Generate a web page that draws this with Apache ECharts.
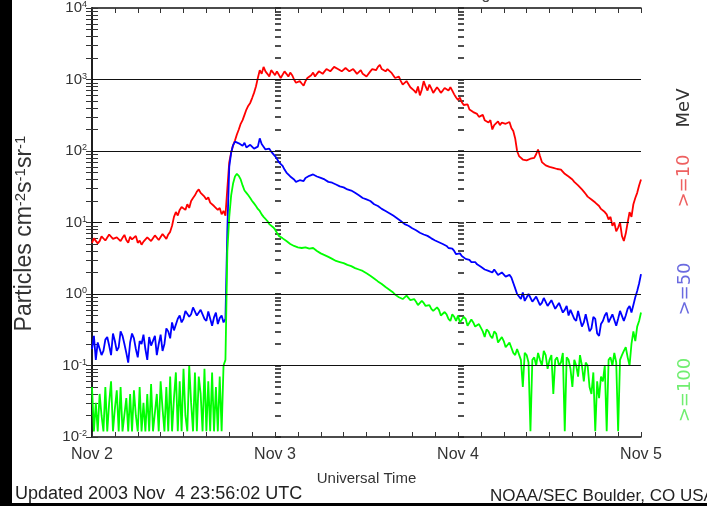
<!DOCTYPE html>
<html>
<head>
<meta charset="utf-8">
<script src="https://cdn.jsdelivr.net/npm/echarts@6/dist/echarts.min.js"></script>
<style>
html, body { margin: 0; padding: 0; background: #fff; }
#main { width: 707px; height: 506px; }
</style>
</head>
<body>
<div id="main"></div>
<script>
// x ticks (hours since Nov 2 00:00 UTC, one label per day)
var dayLabels = ['Nov 2', 'Nov 3', 'Nov 4', 'Nov 5'];
var stepHours = 0.25;
var decades = [0.01, 0.1, 1, 10, 100, 1000, 10000];
var solidLevels = [0.1, 1, 100, 1000];
var dashedLevels = [10];

// >=10 MeV, 15 min samples
var red = [
  5.2, 6.0, 5.8, 5.1, 5.5, 6.4, 6.2, 5.6, 5.9, 6.8,
  6.4, 5.9, 5.8, 6.2, 6.6, 5.5, 6.1, 6.7, 5.7, 5.2,
  6.3, 5.8, 5.9, 6.5, 5.2, 5.6, 4.9, 5.4, 5.6, 6.2,
  6.0, 5.5, 5.8, 6.6, 6.3, 5.7, 6.0, 6.9, 6.5, 5.9,
  6.8, 7.4, 9, 12, 14, 12.5, 15, 16.5, 17, 15,
  18, 16, 20, 22, 24, 27, 29, 26, 25, 23,
  21, 22.5, 19, 20, 17, 18, 15, 16, 13, 14.5,
  12.5, 30, 70, 95, 120, 140, 170, 200, 240, 270,
  320, 380, 430, 470, 550, 650, 800, 1050, 1350, 1200,
  1500, 1300, 1200, 1100, 1350, 1250, 1150, 1300, 1250, 1050,
  1100, 1300, 1200, 1100, 1250, 1150, 1000, 900, 850, 950,
  880, 820, 950, 1050, 1000, 1150, 1250, 1100, 1200, 1300,
  1350, 1200, 1300, 1400, 1450, 1300, 1350, 1500, 1550, 1400,
  1400, 1300, 1350, 1450, 1450, 1300, 1350, 1400, 1300, 1200,
  1250, 1350, 1200, 1250, 1100, 1150, 1300, 1400, 1450, 1350,
  1500, 1600, 1400, 1450, 1300, 1400, 1350, 1250, 1150, 1050,
  1000, 1100, 950, 850, 850, 950, 900, 780, 800, 700,
  650, 800, 600, 720, 950, 800, 700, 850, 750, 650,
  680, 780, 720, 650, 700, 760, 750, 700, 780, 700,
  620, 560, 520, 560, 480, 440, 420, 450, 380, 400,
  350, 360, 330, 300, 300, 320, 270, 280, 250, 270,
  200, 230, 240, 260, 230, 250, 260, 240, 240, 255,
  210, 190, 150, 100, 85, 80, 76, 79, 74, 77,
  78, 76, 80, 90, 105, 85, 70, 66, 63, 64,
  60, 62, 58, 60, 56, 57, 55, 52, 48, 47,
  44, 42, 40, 37, 35, 33, 31, 29, 27, 25,
  23, 22.5, 21, 20, 19, 18, 17, 15.5, 15, 14,
  13, 11, 12, 9, 10, 7.5, 8.5, 10, 6.5, 5.5,
  7, 10, 14, 12, 18, 22, 26, 33, 40
];
// >=50 MeV
var blue = [
  0.17, 0.26, 0.12, 0.21, 0.2, 0.14, 0.16, 0.23, 0.25, 0.19,
  0.14, 0.28, 0.22, 0.16, 0.18, 0.3, 0.26, 0.2, 0.15, 0.11,
  0.21, 0.28, 0.24, 0.17, 0.13, 0.22, 0.2, 0.27, 0.17, 0.12,
  0.25, 0.19, 0.18, 0.26, 0.14, 0.2, 0.27, 0.16, 0.2, 0.33,
  0.3, 0.24, 0.4, 0.31, 0.33, 0.45, 0.5, 0.4, 0.45, 0.58,
  0.6, 0.48, 0.52, 0.65, 0.62, 0.5, 0.48, 0.6, 0.58, 0.45,
  0.42, 0.57, 0.55, 0.36, 0.47, 0.55, 0.38, 0.46, 0.5, 0.4,
  0.45, 8, 60, 95, 120, 135, 140, 128, 125, 118,
  130, 112, 110, 122, 120, 108, 105, 115, 150, 125,
  115, 105, 100, 108, 98, 92, 85, 78, 70, 66,
  62, 55, 50, 47, 44, 42, 40, 37, 38, 39,
  40, 38, 42, 44, 45, 43, 47, 45, 44, 43,
  42, 41, 40, 38, 37, 37.5, 36, 35, 34, 33,
  32, 32.5, 31, 30, 29, 28.5, 28, 27, 26, 25,
  24, 23, 22, 21.5, 21, 20.5, 20, 19, 18, 17.5,
  17, 16, 15.5, 15, 14.5, 14, 13.5, 13, 12.5, 12,
  11.5, 11, 10.5, 10, 9.5, 9.3, 9, 8.6, 8.3, 8.0,
  7.8, 7.5, 7.2, 7.0, 6.8, 6.7, 6.5, 6.1, 6, 5.8,
  5.6, 5.5, 5.3, 5.1, 5, 4.9, 4.7, 4.4, 4.2, 4.3,
  4.0, 3.6, 3.5, 3.7, 3.4, 3.2, 3.1, 3.2, 3.0, 2.8,
  2.7, 2.8, 2.6, 2.5, 2.4, 2.3, 2.2, 2.25, 2.1, 2.0,
  2.0, 2.2, 2.1, 1.85, 1.9, 2.0, 1.95, 1.75, 1.8, 1.85,
  1.7, 1.6, 1.2, 1.0, 0.95, 0.85, 1.05, 0.8, 0.85, 1.0,
  0.95, 0.78, 0.8, 0.92, 0.9, 0.7, 0.75, 0.88, 0.85, 0.68,
  0.7, 0.82, 0.8, 0.62, 0.65, 0.75, 0.72, 0.55, 0.6, 0.68,
  0.5, 0.6, 0.62, 0.45, 0.42, 0.58, 0.55, 0.35, 0.4, 0.52,
  0.5, 0.3, 0.33, 0.48, 0.45, 0.28, 0.26, 0.38, 0.42, 0.5,
  0.55, 0.4, 0.38, 0.52, 0.5, 0.36, 0.45, 0.58, 0.55, 0.42,
  0.5, 0.62, 0.68, 0.55, 0.7, 0.9, 1.1, 1.4, 1.9
];
// >=100 MeV
var green = [
  0.05, 0.012, 0.03, 0.012, 0.04, 0.02, 0.012, 0.05, 0.012, 0.03,
  0.06, 0.012, 0.025, 0.045, 0.012, 0.05, 0.012, 0.012, 0.035, 0.012,
  0.04, 0.012, 0.045, 0.02, 0.012, 0.05, 0.012, 0.03, 0.012, 0.04,
  0.012, 0.055, 0.012, 0.012, 0.04, 0.012, 0.06, 0.025, 0.012, 0.05,
  0.012, 0.07, 0.012, 0.035, 0.08, 0.012, 0.06, 0.012, 0.09, 0.02,
  0.012, 0.1, 0.03, 0.012, 0.08, 0.012, 0.07, 0.04, 0.012, 0.09,
  0.012, 0.06, 0.012, 0.08, 0.012, 0.05, 0.012, 0.07, 0.012, 0.1,
  0.12, 4, 12, 24, 35, 44, 48, 45, 40, 33,
  28, 26, 24, 22, 20, 18.5, 17, 15.5, 14.5, 13,
  12, 11.5, 10.5, 9.5, 9, 8.6, 8, 7.2, 6.5, 6.3,
  6, 5.7, 5.5, 5.2, 5, 4.8, 4.7, 4.6, 4.5, 4.4,
  4.4, 4.6, 4.5, 4.3, 4.3, 4.5, 4.4, 4.2, 4.0, 3.8,
  3.7, 3.6, 3.5, 3.4, 3.3, 3.2, 3.1, 3.0, 2.9, 2.85,
  2.8, 2.75, 2.7, 2.6, 2.55, 2.5, 2.45, 2.35, 2.3, 2.25,
  2.2, 2.15, 2.1, 2.0, 1.95, 1.85, 1.8, 1.7, 1.65, 1.55,
  1.5, 1.45, 1.38, 1.3, 1.25, 1.2, 1.15, 1.1, 1.05, 0.98,
  1.0, 0.9, 0.95, 0.85, 0.88, 0.95, 0.9, 0.82, 0.8, 0.85,
  0.78, 0.7, 0.72, 0.8, 0.75, 0.68, 0.65, 0.7, 0.62, 0.58,
  0.55, 0.65, 0.6, 0.5, 0.5, 0.56, 0.52, 0.45, 0.42, 0.52,
  0.48, 0.42, 0.5, 0.4, 0.42, 0.48, 0.45, 0.36, 0.38, 0.44,
  0.4, 0.35, 0.33, 0.38, 0.36, 0.3, 0.25, 0.32, 0.3, 0.26,
  0.24, 0.3, 0.28, 0.21, 0.2, 0.25, 0.22, 0.18, 0.17, 0.21,
  0.2, 0.15, 0.14, 0.17, 0.16, 0.12, 0.05, 0.15, 0.14, 0.11,
  0.012, 0.12, 0.13, 0.1, 0.15, 0.12, 0.1, 0.16, 0.14, 0.09,
  0.12, 0.14, 0.04, 0.12, 0.13, 0.1, 0.11, 0.15, 0.012, 0.13,
  0.12, 0.09, 0.05, 0.12, 0.1, 0.07, 0.14, 0.1, 0.06, 0.11,
  0.1, 0.05, 0.04, 0.08, 0.012, 0.06, 0.035, 0.07, 0.06, 0.1,
  0.012, 0.12, 0.13, 0.1, 0.15, 0.11, 0.012, 0.12, 0.14, 0.16,
  0.18, 0.13, 0.1, 0.2, 0.3, 0.22, 0.35, 0.42, 0.55
];

function toPairs(vals) {
  return vals.map(function (v, i) { return [i * stepHours, v]; });
}

// minor tick positions 1..9 x 10^n
var logTicks = [];
for (var k = 0; k < decades.length - 1; k++) {
  for (var m = 1; m < 10; m++) logTicks.push(decades[k] * m);
}
logTicks.push(decades[decades.length - 1]);

var frame = { color: '#111', width: 1.5 };
var tickStyle = { color: '#333', width: 1 };

function xAx(pos, showLabel) {
  return {
    type: 'value', position: pos, min: 0, max: 72, interval: 24,
    axisLine: { show: true, onZero: false, lineStyle: frame },
    axisTick: { show: true, inside: true, length: 5, lineStyle: tickStyle },
    minorTick: { show: true, splitNumber: 8, length: 5, lineStyle: tickStyle },
    splitLine: { show: false },
    axisLabel: {
      show: showLabel, margin: 10, fontSize: 16, color: '#333',
      fontFamily: 'Liberation Sans', showMinLabel: true, showMaxLabel: true,
      formatter: function (v) { return dayLabels[Math.round(v / 24)]; }
    }
  };
}

function yAx(pos, offset, showLine, ticks) {
  return {
    type: 'log', logBase: 10, min: 0.01, max: 10000, position: pos, offset: offset,
    axisLine: { show: showLine, lineStyle: frame },
    axisTick: { show: true, inside: true, length: 6, customValues: logTicks, lineStyle: ticks || tickStyle },
    splitLine: { show: false },
    axisLabel: { show: false }
  };
}

var leftAxis = yAx('left', 0, true);
leftAxis.axisLabel = {
  show: true, customValues: decades, margin: 5, fontSize: 15, color: '#333',
  fontFamily: 'Liberation Sans',
  formatter: function (v) {
    var e = Math.round(Math.log10(v));
    return '10{e|' + e + '}';
  },
  rich: { e: { fontSize: 9, verticalAlign: 'top', color: '#333', fontFamily: 'Liberation Sans' } }
};
leftAxis.name = 'Particles cm{s|-2}s{s|-1}sr{s|-1}';
leftAxis.nameLocation = 'middle';
leftAxis.nameGap = 56;
leftAxis.nameRotate = 90;
leftAxis.nameTextStyle = {
  fontSize: 23, color: '#333', fontFamily: 'Liberation Sans', padding: [0, 22, 0, 0],
  rich: { s: { fontSize: 15, verticalAlign: 'top', color: '#333', fontFamily: 'Liberation Sans' } }
};

var ladderTicks = { color: '#222', width: 1.6 };

var levelLines = solidLevels.map(function (v) {
  return { yAxis: v, lineStyle: { color: '#111', width: 1.2, type: 'solid' } };
}).concat(dashedLevels.map(function (v) {
  return { yAxis: v, lineStyle: { color: '#111', width: 1.2, type: [10, 7] } };
}));

function sideText(txt, x, y, color) {
  return {
    type: 'text', x: x, y: y, rotation: Math.PI / 2,
    style: {
      text: txt, fill: color, fontSize: 18, fontFamily: 'DejaVu Sans',
      textAlign: 'center', textVerticalAlign: 'middle', align: 'center', verticalAlign: 'middle'
    }
  };
}

var myChart = echarts.init(document.getElementById('main'));
var option = {
  animation: false,
  backgroundColor: '#fff',
  grid: { left: 92, right: 66, top: 8, bottom: 69 },
  xAxis: [
    (function () {
      var a = xAx('bottom', true);
      a.name = 'Universal Time';
      a.nameLocation = 'middle';
      a.nameGap = 34;
      a.nameTextStyle = { fontSize: 15, color: '#333', fontFamily: 'Liberation Sans' };
      return a;
    })(),
    xAx('top', false)
  ],
  yAxis: [
    leftAxis,
    yAx('right', 0, true),
    yAx('left', -183, false, ladderTicks),
    yAx('left', -366, false, ladderTicks)
  ],
  series: [
    {
      name: 'levels', type: 'line', data: [], z: 1, silent: true,
      markLine: { symbol: 'none', silent: true, animation: false, label: { show: false }, data: levelLines }
    },
    {
      name: '>=10', type: 'line', data: toPairs(red), showSymbol: false, z: 3,
      lineStyle: { color: '#ff0000', width: 1.8 }, itemStyle: { color: '#ff0000' }
    },
    {
      name: '>=50', type: 'line', data: toPairs(blue), showSymbol: false, z: 3,
      lineStyle: { color: '#0000ff', width: 1.8 }, itemStyle: { color: '#0000ff' }
    },
    {
      name: '>=100', type: 'line', data: toPairs(green), showSymbol: false, z: 3,
      lineStyle: { color: '#00ff00', width: 1.8 }, itemStyle: { color: '#00ff00' }
    }
  ],
  graphic: [
    { type: 'rect', shape: { x: 0, y: 0, width: 12, height: 506 }, style: { fill: '#000' } },
    { type: 'rect', shape: { x: 0, y: 503, width: 707, height: 3 }, style: { fill: '#000' } },
    sideText('MeV', 684, 108, '#333'),
    sideText('>=10', 684, 181, '#ee6060'),
    sideText('>=50', 685, 289, '#6a6ae0'),
    sideText('>=100', 685, 390, '#70ee70'),
    {
      type: 'text', x: 15, y: 494,
      style: { text: 'Updated 2003 Nov  4 23:56:02 UTC', fill: '#222', fontSize: 18,
        fontFamily: 'Liberation Sans', textVerticalAlign: 'middle', verticalAlign: 'middle' }
    },
    {
      type: 'text', x: 490, y: 496,
      style: { text: 'NOAA/SEC Boulder, CO USA', fill: '#222', fontSize: 17,
        fontFamily: 'Liberation Sans', textVerticalAlign: 'middle', verticalAlign: 'middle' }
    },
    {
      type: 'text', x: 462, y: -13,
      style: { text: 'Begin:  2003 Nov  2 0000 UTC', fill: '#444', fontSize: 16,
        fontFamily: 'Liberation Sans' }
    }
  ]
};
myChart.setOption(option);
</script>
</body>
</html>
